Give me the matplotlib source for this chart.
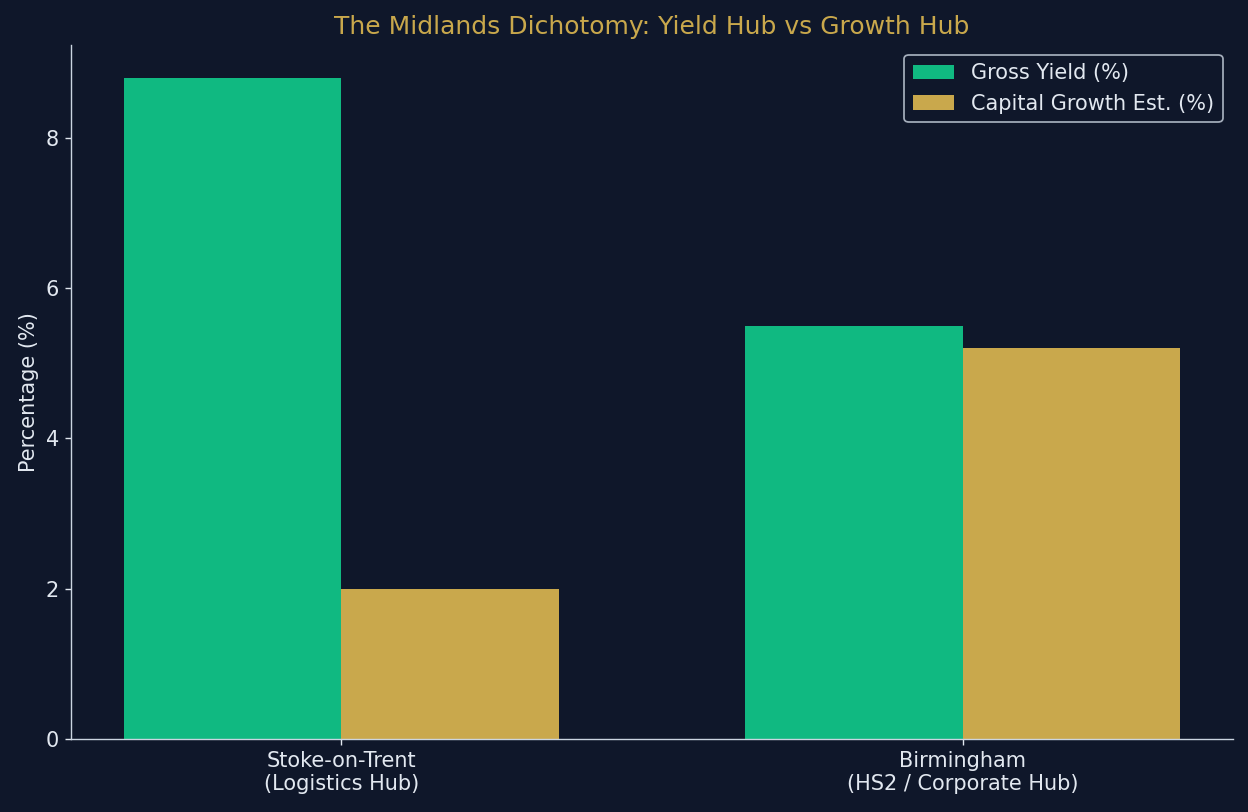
import matplotlib.pyplot as plt
import numpy as np

regioes = ['Stoke-on-Trent\n(Logistics Hub)', 'Birmingham\n(HS2 / Corporate Hub)']
yield_bruto = [8.8, 5.5]
crescimento = [2.0, 5.2]

fundo = '#0f172a'
texto = '#e2e8f0'
verde = '#10b981'
dourado = '#c9a84c'

plt.rcParams['font.size'] = 12

fig, ax = plt.subplots(figsize=(9.984, 6.496), dpi=125)
fig.patch.set_facecolor(fundo)
ax.set_facecolor(fundo)

x = np.arange(len(regioes))
largura = 0.35
ax.bar(x - largura / 2, yield_bruto, largura, color=verde, label='Gross Yield (%)')
ax.bar(x + largura / 2, crescimento, largura, color=dourado, label='Capital Growth Est. (%)')

ax.set_xticks(x)
ax.set_xticklabels(regioes)
ax.set_ylabel('Percentage (%)', color=texto)
ax.set_title('The Midlands Dichotomy: Yield Hub vs Growth Hub', color=dourado)
ax.tick_params(colors=texto)
for lado in ['top', 'right']:
    ax.spines[lado].set_visible(False)
for lado in ['left', 'bottom']:
    ax.spines[lado].set_color('#cbd5e1')

leg = ax.legend(facecolor=fundo, edgecolor='#cbd5e1', labelcolor=texto)

plt.subplots_adjust(left=0.057, right=0.988, bottom=0.09, top=0.945)
plt.savefig('out.png', facecolor=fundo)
